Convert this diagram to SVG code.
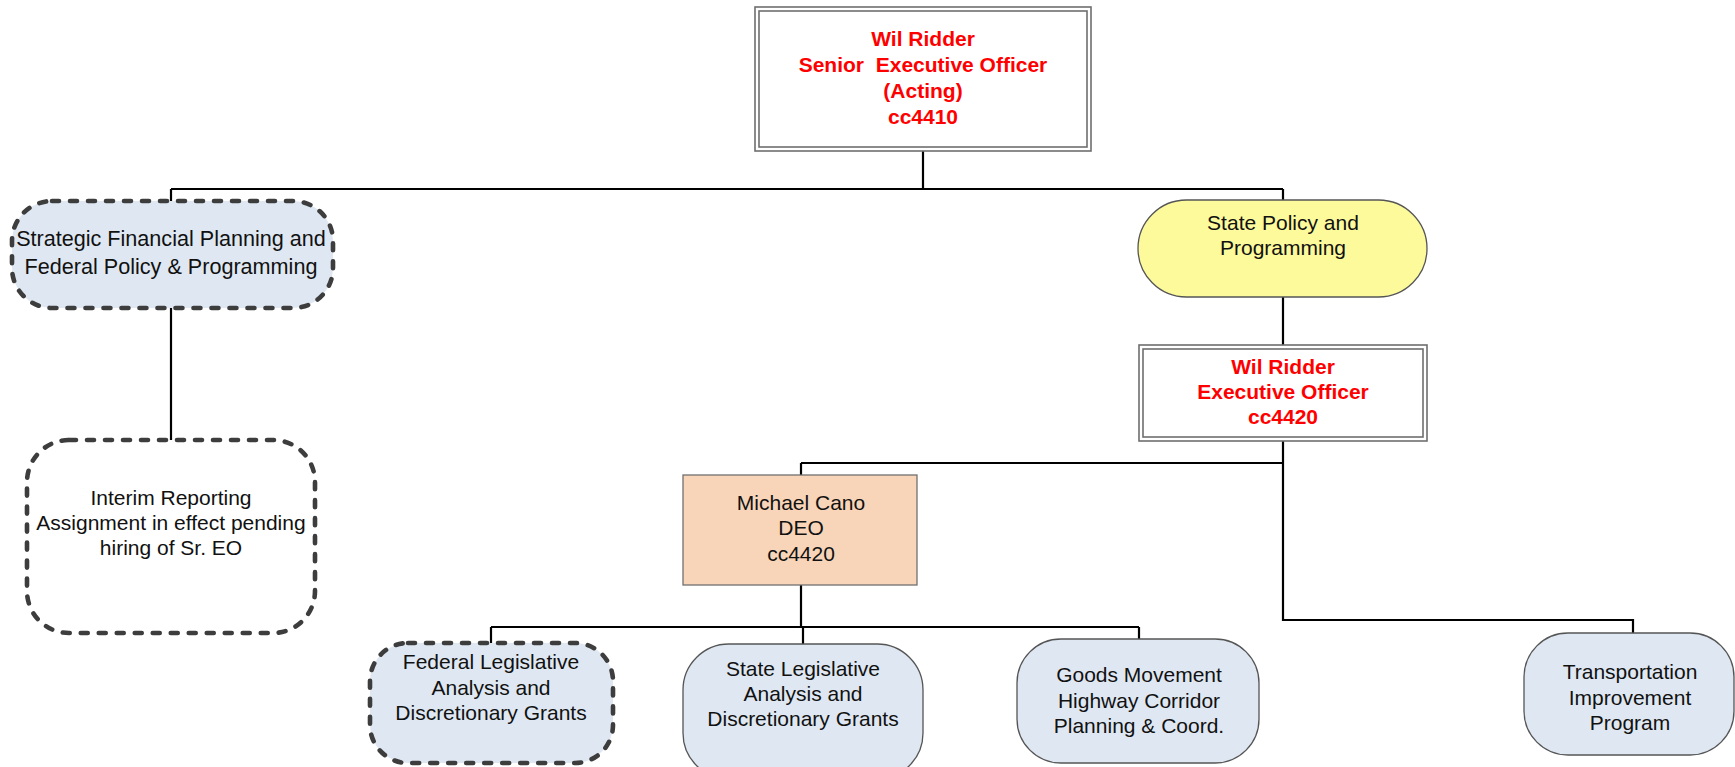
<svg xmlns="http://www.w3.org/2000/svg" width="1735" height="767" viewBox="0 0 1735 767">
<style>
text{font-family:"Liberation Sans",Arial,sans-serif;font-size:21px;text-anchor:middle;fill:#111}
.red{fill:#ff0000;font-weight:bold}
.wide{font-size:21.6px}
.dbl-o{fill:#fff;stroke:#6e6e6e;stroke-width:1.6}
.dbl-i{fill:none;stroke:#6e6e6e;stroke-width:1.6}
.dash{fill:#dfe8f2;stroke:#3d3d3d;stroke-width:4.6;stroke-dasharray:7 11;stroke-linecap:round}
.dashw{fill:#fff;stroke:#3d3d3d;stroke-width:4.6;stroke-dasharray:7 11;stroke-linecap:round}
.blue{fill:#dfe8f2;stroke:#555;stroke-width:1.3}
.conn{fill:none;stroke:#000;stroke-width:2.2}
</style>
<rect width="1735" height="767" fill="#fff"/>
<g id="connectors">
<path class="conn" d="M923 151V189M171 189H1283M171 189V201M1283 189V200M171 308V440M1283 297V345M1283 441V620H1633V633M801 463H1283M801 463V475M801 585V627M491 627H1139M491 627V643M803 627V644M1139 627V639"/>
</g>
<g id="sr-eo">
<rect class="dbl-o" x="755" y="7" width="336" height="144"/>
<rect class="dbl-i" x="759" y="11" width="328" height="136"/>
<text class="red" x="923" y="46">Wil Ridder</text>
<text class="red" x="923" y="72" xml:space="preserve">Senior  Executive Officer</text>
<text class="red" x="923" y="98">(Acting)</text>
<text class="red" x="923" y="124">cc4410</text>
</g>
<g id="strategic">
<rect class="dash" x="12" y="201" width="321" height="107" rx="40" ry="40"/>
<text class="wide" x="171" y="246">Strategic Financial Planning and</text>
<text class="wide" x="171" y="273.5">Federal Policy &amp; Programming</text>
</g>
<g id="interim">
<rect class="dashw" x="27" y="440" width="288" height="193" rx="42" ry="42"/>
<text x="171" y="505">Interim Reporting</text>
<text x="171" y="530">Assignment in effect pending</text>
<text x="171" y="555">hiring of Sr. EO</text>
</g>
<g id="state-policy">
<rect x="1138" y="200" width="289" height="97" rx="48.5" ry="48.5" fill="#fdfa9c" stroke="#555" stroke-width="1.3"/>
<text x="1283" y="229.5">State Policy and</text>
<text x="1283" y="254.5">Programming</text>
</g>
<g id="eo">
<rect class="dbl-o" x="1139" y="345" width="288" height="96"/>
<rect class="dbl-i" x="1143" y="349" width="280" height="88"/>
<text class="red" x="1283" y="374">Wil Ridder</text>
<text class="red" x="1283" y="399">Executive Officer</text>
<text class="red" x="1283" y="424">cc4420</text>
</g>
<g id="deo">
<rect x="683" y="475" width="234" height="110" fill="#f8d5b8" stroke="#707070" stroke-width="1.3"/>
<text x="801" y="510">Michael Cano</text>
<text x="801" y="535">DEO</text>
<text x="801" y="560.5">cc4420</text>
</g>
<g id="federal-leg">
<rect class="dash" x="370" y="643" width="243" height="120" rx="38" ry="38"/>
<text x="491" y="669">Federal Legislative</text>
<text x="491" y="694.5">Analysis and</text>
<text x="491" y="720">Discretionary Grants</text>
</g>
<g id="state-leg">
<rect class="blue" x="683" y="644" width="240" height="135" rx="46" ry="46"/>
<text x="803" y="676">State Legislative</text>
<text x="803" y="701">Analysis and</text>
<text x="803" y="726">Discretionary Grants</text>
</g>
<g id="goods">
<rect class="blue" x="1017" y="639" width="242" height="124" rx="44" ry="44"/>
<text x="1139" y="682">Goods Movement</text>
<text x="1139" y="707.5">Highway Corridor</text>
<text x="1139" y="733">Planning &amp; Coord.</text>
</g>
<g id="tip">
<rect class="blue" x="1524" y="633" width="210" height="122" rx="44" ry="44"/>
<text x="1630" y="679">Transportation</text>
<text x="1630" y="705">Improvement</text>
<text x="1630" y="730">Program</text>
</g>
</svg>
